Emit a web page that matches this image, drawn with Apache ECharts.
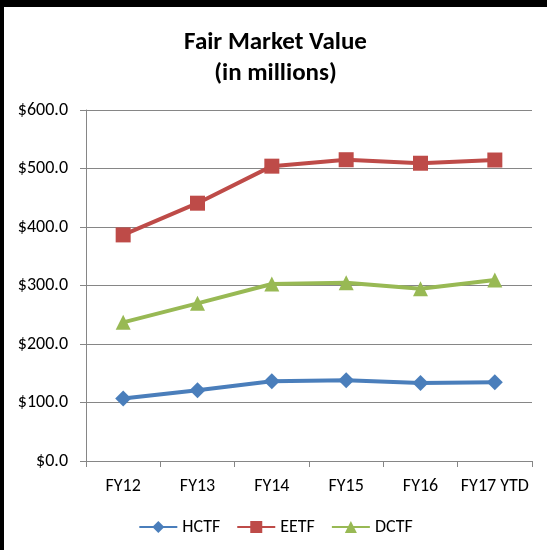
<!DOCTYPE html>
<html>
<head>
<meta charset="utf-8">
<script src="https://cdn.jsdelivr.net/npm/echarts@6/dist/echarts.min.js"></script>
<style>
  html, body { margin: 0; padding: 0; background: #fff; }
  .frame {
    width: 547px; height: 550px; box-sizing: border-box;
    border-top: 7px solid #000; border-left: 4px solid #000;
  }
  .chart { width: 543px; height: 543px; }
</style>
</head>
<body>
<div class="frame"><div class="chart"></div></div>
<script>
  const categories = ['FY12', 'FY13', 'FY14', 'FY15', 'FY16', 'FY17 YTD'];
  const hctf = [106.8, 121.0, 136.5, 138.0, 133.5, 134.7];
  const eetf = [386.5, 440.7, 504.0, 515.0, 509.0, 514.5];
  const dctf = [237.0, 269.5, 302.5, 304.8, 294.5, 309.4];

  const font = 'Carlito, Lato, sans-serif';
  const myChart = echarts.init(document.querySelector('.chart'));

  function line(name, data, color, symbol, size) {
    return {
      name: name,
      type: 'line',
      data: data,
      symbol: symbol,
      symbolSize: size,
      lineStyle: { width: 4, color: color },
      itemStyle: { color: color },
      emphasis: { disabled: true },
    };
  }

  myChart.setOption({
    animation: false,
    title: {
      text: 'Fair Market Value\n(in millions)',
      left: 'center',
      top: 15,
      textStyle: { fontFamily: font, fontSize: 25, fontWeight: 'bold', color: '#000', lineHeight: 31 },
    },
    legend: {
      bottom: 9,
      left: 'center',
      itemWidth: 38,
      itemHeight: 15,
      itemGap: 16,
      textStyle: { fontFamily: font, fontSize: 18, color: '#000' },
      data: ['HCTF', 'EETF', 'DCTF'],
    },
    grid: { left: 82, right: 15, top: 103, bottom: 89 },
    xAxis: {
      type: 'category',
      data: categories,
      boundaryGap: true,
      axisLine: { lineStyle: { color: '#868686', width: 1 } },
      axisTick: { show: true, length: 6, alignWithLabel: false, lineStyle: { color: '#868686' } },
      axisLabel: { fontFamily: font, fontSize: 18, color: '#000', margin: 16, interval: 0 },
    },
    yAxis: {
      type: 'value',
      min: 0,
      max: 600,
      interval: 100,
      axisLine: { show: true, lineStyle: { color: '#868686', width: 1 } },
      axisTick: { show: true, length: 6, lineStyle: { color: '#868686' } },
      axisLabel: {
        fontFamily: font, fontSize: 18, color: '#000', margin: 18,
        formatter: (v) => '$' + v.toFixed(1),
      },
      splitLine: { lineStyle: { color: '#868686', width: 1 } },
    },
    series: [
      line('HCTF', hctf, '#4A7EBB', 'diamond', 16),
      line('EETF', eetf, '#BE4B48', 'rect', 15),
      line('DCTF', dctf, '#98B954', 'triangle', 15),
    ],
  });
</script>
</body>
</html>
